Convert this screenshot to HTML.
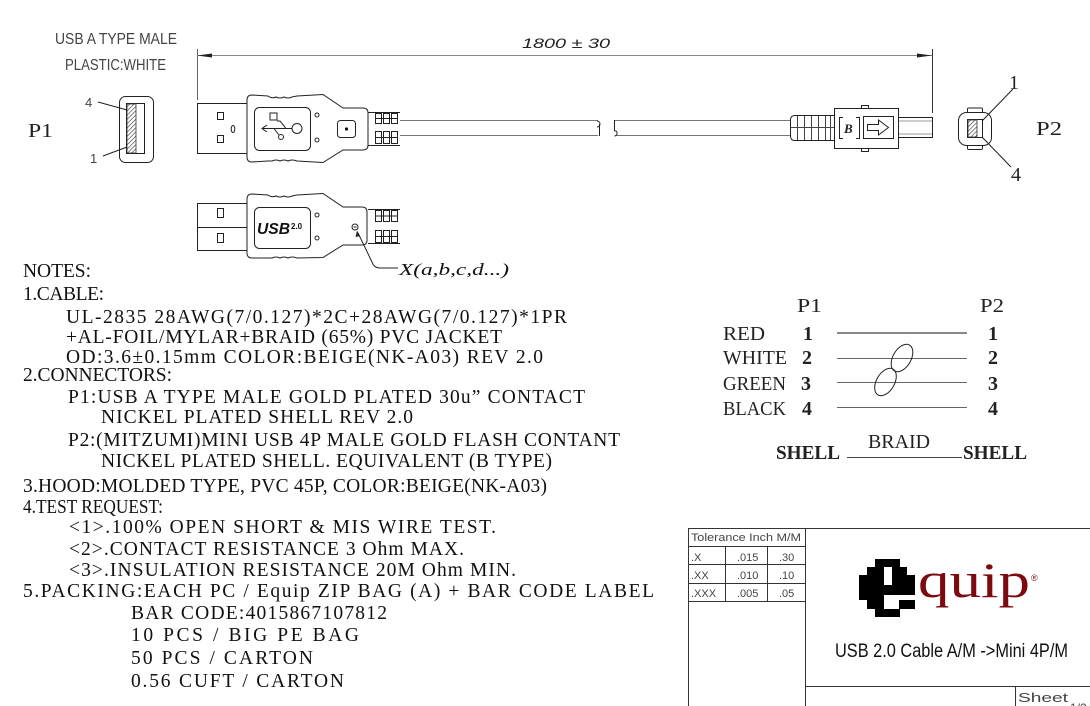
<!DOCTYPE html>
<html><head><meta charset="utf-8"><style>
html,body{margin:0;padding:0;background:#fff;}
svg{display:block;}
.n{font-family:"Liberation Serif",serif;font-size:19.5px;fill:#111;}
.s{font-family:"Liberation Sans",sans-serif;fill:#444;}
.w{font-family:"Liberation Serif",serif;font-size:20px;fill:#222;}
.d{fill:none;stroke:#222;stroke-width:1;}
</style></head><body>
<svg width="1090" height="706" viewBox="0 0 1090 706" xmlns="http://www.w3.org/2000/svg">
<defs>
<pattern id="h" width="3" height="3" patternUnits="userSpaceOnUse" patternTransform="rotate(45)"><line x1="0" y1="0" x2="0" y2="3" stroke="#333" stroke-width="1.2"/></pattern>
</defs>
<rect width="1090" height="706" fill="#fff"/>

<!-- top labels -->
<text class="s" x="55" y="44" font-size="16" textLength="122" lengthAdjust="spacingAndGlyphs">USB A TYPE MALE</text>
<text class="s" x="65" y="70" font-size="16" textLength="101" lengthAdjust="spacingAndGlyphs">PLASTIC:WHITE</text>
<text class="w" x="28" y="137" font-size="19" textLength="25" lengthAdjust="spacingAndGlyphs">P1</text>
<text class="w" x="1036" y="135" font-size="19" textLength="26" lengthAdjust="spacingAndGlyphs">P2</text>

<!-- P1 end view -->
<rect class="d" x="119.5" y="96.5" width="34" height="66" rx="6"/>
<rect class="d" x="126.5" y="103.5" width="18" height="50"/>
<rect x="127" y="104" width="9" height="49" fill="url(#h)" stroke="#333" stroke-width="0.8"/>
<text class="s" x="85" y="107" font-size="13">4</text>
<text class="s" x="90" y="163" font-size="13">1</text>
<line class="d" x1="98" y1="102" x2="127" y2="110"/>
<line class="d" x1="103" y1="156" x2="127" y2="147"/>

<!-- dimension -->
<line x1="197.5" y1="49" x2="197.5" y2="100" stroke="#666"/>
<line x1="932.5" y1="49" x2="932.5" y2="113" stroke="#333"/>
<line x1="197" y1="55.5" x2="932" y2="55.5" stroke="#888"/>
<polygon points="197,55.5 212,53.5 212,57.5" fill="#222"/>
<polygon points="932,55.5 917,53.5 917,57.5" fill="#222"/>
<text x="522" y="48" font-family="Liberation Sans,sans-serif" font-style="italic" font-size="14" textLength="88" lengthAdjust="spacingAndGlyphs" fill="#222">1800 ± 30</text>

<!-- USB A connector 1 -->
<path class="d" d="M247,103.5 H197.5 V153.5 H247"/>
<rect class="d" x="217.5" y="112.5" width="6" height="7"/>
<rect class="d" x="217.5" y="135.5" width="6" height="7"/>
<ellipse class="d" cx="233" cy="129" rx="1.8" ry="3.5"/>
<path class="d" d="M252,95 L268,96 Q272,99 276,97 Q280,99 284,97 Q288,99 292,97 L297,96 L323,94.5 L343,108 L363,108 Q368,108 368,113 L368,145 Q368,150 363,150 L343,150 L323,162.5 L297,161 Q292,159 288,161 Q284,159 280,161 Q276,159 272,161 L268,161 L252,162 Q247,162 247,157 L247,100 Q247,95 252,95 Z"/>
<rect class="d" x="254.5" y="107.5" width="56" height="43" rx="5"/>
<path class="d" d="M262,128.5 H292 M267,125 L262,128.5 L267,132 M286,128.5 L280,121 H277 M274,128.5 L279,135"/>
<rect class="d" x="270" y="113" width="7" height="7"/>
<circle class="d" cx="297" cy="128.5" r="5"/>
<circle class="d" cx="281" cy="137" r="2.5"/>
<circle class="d" cx="317" cy="115" r="2"/>
<circle class="d" cx="317" cy="140" r="2"/>
<rect class="d" x="337.5" y="120.5" width="18" height="17" rx="3"/>
<circle cx="346.5" cy="129" r="1.6" fill="#111"/>
<!-- strain relief 1 -->
<path class="d" d="M368,112.5 H400 M368,145.5 H400"/>
<g class="d">
<rect x="375.5" y="113.5" width="6" height="10"/><rect x="383.5" y="113.5" width="6" height="10"/><rect x="391.5" y="113.5" width="6" height="10"/>
<rect x="375.5" y="131.5" width="6" height="12"/><rect x="383.5" y="131.5" width="6" height="12"/><rect x="391.5" y="131.5" width="6" height="12"/>
<path d="M375.5,118.5 H397.5 M375.5,137.5 H397.5"/>
</g>
<!-- cable -->
<path d="M400,120.5 H598 M400,135.5 H598 M615,120.5 H790 M615,135.5 H790" stroke="#777" fill="none"/>
<path class="d" d="M597,121 C601,121 601,127 597,127 M599.5,124 V136"/>
<path class="d" d="M614.5,120 V131 M614.5,131 C618,130 618,136 614.5,136"/>

<!-- mini B plug -->
<path class="d" d="M834,115.5 H795 Q790.5,115.5 790.5,120 V136 Q790.5,140.5 795,140.5 H834"/>
<path d="M797.5,116 V140 M804.5,116 V140 M811.5,116 V140 M818.5,116 V140 M825.5,116 V140 M830.5,116 V140 M790.5,127.5 H834" stroke="#444" fill="none"/>
<rect class="d" x="834.5" y="108.5" width="64" height="40"/>
<rect class="d" x="861.5" y="105.5" width="7" height="3"/>
<rect class="d" x="861.5" y="148.5" width="7" height="3"/>
<path class="d" d="M843,117.5 H839.5 V138.5 H843 M856,117.5 H859.5 V138.5 H856"/>
<text x="844" y="133" font-family="Liberation Serif,serif" font-weight="bold" font-style="italic" font-size="13" fill="#222">B</text>
<rect class="d" x="863.5" y="116.5" width="30" height="22"/>
<path class="d" d="M867.5,124.5 H878.5 V120 L888.5,127.5 L878.5,135 V130.5 H867.5 Z"/>
<path class="d" d="M899,117.5 H932.5 V137.5 H899"/>
<path d="M899,121 H932 M899,134 H932" stroke="#999" fill="none"/>

<!-- P2 end view -->
<rect class="d" x="958.5" y="112.5" width="33" height="33" rx="8"/>
<path class="d" d="M967.5,112.5 V109 Q967.5,108 969,108 H981 Q982.5,108 982.5,109 V112.5 M967.5,145.5 V148.5 Q967.5,149.5 969,149.5 H981 Q982.5,149.5 982.5,148.5 V145.5"/>
<rect class="d" x="967.5" y="119.5" width="15" height="18"/>
<rect x="968" y="120" width="9" height="17" fill="url(#h)" stroke="#333" stroke-width="0.8"/>
<text class="w" x="1009" y="89" font-size="18">1</text>
<text class="w" x="1011" y="181" font-size="18">4</text>
<line class="d" x1="1013" y1="89" x2="982" y2="121"/>
<line class="d" x1="982" y1="137" x2="1011" y2="167"/>

<!-- USB A connector 2 -->
<path class="d" d="M247,203.5 H197.5 V250.5 H247 M197.5,227.5 H247"/>
<rect class="d" x="217.5" y="208.5" width="6" height="9"/>
<rect class="d" x="217.5" y="233.5" width="6" height="9"/>
<path class="d" d="M252,194 L268,195 Q272,198 276,196 Q280,198 284,196 Q288,198 292,196 L297,195 L323,193.5 L343,207 L362,207 Q367,207 367,212 L367,240 Q367,245 362,245 L343,245 L323,257.5 L297,258 Q292,256 288,258 Q284,256 280,258 Q276,256 272,258 L268,258 L252,258 Q247,258 247,253 L247,199 Q247,194 252,194 Z"/>
<rect class="d" x="254.5" y="207.5" width="56" height="41" rx="5"/>
<text x="257" y="234" font-family="Liberation Sans,sans-serif" font-weight="bold" font-style="italic" font-size="16" textLength="33" lengthAdjust="spacingAndGlyphs" fill="#111">USB</text>
<text x="291" y="229" font-family="Liberation Sans,sans-serif" font-weight="bold" font-size="8" fill="#111">2.0</text>
<circle class="d" cx="317" cy="215" r="2"/>
<circle class="d" cx="317" cy="238" r="2"/>
<circle class="d" cx="355" cy="227" r="3"/>
<path d="M353.5,227 H356.5" stroke="#222"/>
<path class="d" d="M368,209.5 H400 M368,243.5 H400"/>
<g class="d">
<rect x="375.5" y="210.5" width="6" height="11"/><rect x="383.5" y="210.5" width="6" height="11"/><rect x="391.5" y="210.5" width="6" height="11"/>
<rect x="375.5" y="230.5" width="6" height="12"/><rect x="383.5" y="230.5" width="6" height="12"/><rect x="391.5" y="230.5" width="6" height="12"/>
<path d="M375.5,216 H397.5 M375.5,236.5 H397.5"/>
</g>
<path class="d" d="M358,233 L372,262 Q374,268 380,268 L398,268"/>
<polygon points="357,230.5 355.5,237 360,236" fill="#222"/>
<text x="399" y="275" font-family="Liberation Serif,serif" font-style="italic" font-size="17" textLength="110" lengthAdjust="spacingAndGlyphs" fill="#111">X(a,b,c,d...)</text>

<!-- Notes -->
<text class="n" x="23" y="277" textLength="68" lengthAdjust="spacing">NOTES:</text>
<text class="n" x="23" y="300" textLength="81" lengthAdjust="spacing">1.CABLE:</text>
<text class="n" x="66" y="323" textLength="501" lengthAdjust="spacing">UL-2835 28AWG(7/0.127)*2C+28AWG(7/0.127)*1PR</text>
<text class="n" x="66" y="343" textLength="436" lengthAdjust="spacing">+AL-FOIL/MYLAR+BRAID (65%) PVC JACKET</text>
<text class="n" x="66" y="363" textLength="477" lengthAdjust="spacing">OD:3.6±0.15mm COLOR:BEIGE(NK-A03) REV 2.0</text>
<text class="n" x="23" y="381" textLength="149" lengthAdjust="spacing">2.CONNECTORS:</text>
<text class="n" x="68" y="403" textLength="517" lengthAdjust="spacing">P1:USB A TYPE MALE GOLD PLATED 30u” CONTACT</text>
<text class="n" x="101" y="423" textLength="312" lengthAdjust="spacing">NICKEL PLATED SHELL REV 2.0</text>
<text class="n" x="68" y="446" textLength="552" lengthAdjust="spacing">P2:(MITZUMI)MINI USB 4P MALE GOLD FLASH CONTANT</text>
<text class="n" x="101" y="467" textLength="451" lengthAdjust="spacing">NICKEL PLATED SHELL. EQUIVALENT (B TYPE)</text>
<text class="n" x="23" y="492" textLength="524" lengthAdjust="spacing">3.HOOD:MOLDED TYPE, PVC 45P, COLOR:BEIGE(NK-A03)</text>
<text class="n" x="23" y="513" textLength="140" lengthAdjust="spacingAndGlyphs">4.TEST REQUEST:</text>
<text class="n" x="69" y="533" textLength="427" lengthAdjust="spacing">&lt;1&gt;.100% OPEN SHORT &amp; MIS WIRE TEST.</text>
<text class="n" x="69" y="555" textLength="395" lengthAdjust="spacing">&lt;2&gt;.CONTACT RESISTANCE 3 Ohm MAX.</text>
<text class="n" x="69" y="576" textLength="447" lengthAdjust="spacing">&lt;3&gt;.INSULATION RESISTANCE 20M Ohm MIN.</text>
<text class="n" x="23" y="597" textLength="631" lengthAdjust="spacing">5.PACKING:EACH PC /  Equip ZIP BAG (A) + BAR CODE LABEL</text>
<text class="n" x="131" y="619" textLength="256" lengthAdjust="spacing">BAR CODE:4015867107812</text>
<text class="n" x="131" y="641" textLength="228" lengthAdjust="spacing">10 PCS / BIG PE BAG</text>
<text class="n" x="131" y="664" textLength="182" lengthAdjust="spacing">50 PCS / CARTON</text>
<text class="n" x="131" y="687" textLength="213" lengthAdjust="spacing">0.56 CUFT / CARTON</text>

<!-- Wiring diagram -->
<text class="w" x="797" y="312" textLength="25" lengthAdjust="spacingAndGlyphs">P1</text>
<text class="w" x="980" y="312" textLength="24" lengthAdjust="spacingAndGlyphs">P2</text>
<text class="w" x="723" y="340" textLength="42" lengthAdjust="spacingAndGlyphs">RED</text>
<text class="w" x="723" y="364" textLength="64" lengthAdjust="spacingAndGlyphs">WHITE</text>
<text class="w" x="723" y="390" textLength="63" lengthAdjust="spacingAndGlyphs">GREEN</text>
<text class="w" x="723" y="415" textLength="63" lengthAdjust="spacingAndGlyphs">BLACK</text>
<g class="w" font-weight="bold">
<text x="803" y="340">1</text><text x="802" y="364">2</text><text x="801" y="390">3</text><text x="802" y="415">4</text>
<text x="988" y="340">1</text><text x="988" y="364">2</text><text x="988" y="390">3</text><text x="988" y="415">4</text>
</g>
<line x1="837" y1="333" x2="967" y2="333" stroke="#111"/>
<line x1="837" y1="358.5" x2="967" y2="358.5" stroke="#666"/>
<line x1="837" y1="382.5" x2="967" y2="382.5" stroke="#666"/>
<line x1="837" y1="407.5" x2="967" y2="407.5" stroke="#666"/>
<ellipse class="d" cx="902" cy="358" rx="9" ry="15" transform="rotate(30 902 358)"/>
<ellipse class="d" cx="885.5" cy="382" rx="9" ry="15" transform="rotate(30 885.5 382)"/>
<text class="w" x="776" y="459" font-weight="bold" textLength="64" lengthAdjust="spacingAndGlyphs">SHELL</text>
<text class="w" x="868" y="448" textLength="62" lengthAdjust="spacingAndGlyphs" fill="#444">BRAID</text>
<line x1="847" y1="457.5" x2="962" y2="457.5" stroke="#444"/>
<text class="w" x="963" y="459" font-weight="bold" textLength="64" lengthAdjust="spacingAndGlyphs">SHELL</text>

<!-- Title block -->
<path d="M688,528.5 H1090 M688.5,528 V706 M805.5,528 V706 M805,686.5 H1090 M1015.5,686 V706" stroke="#333" fill="none"/>
<path d="M688,546.5 H805 M688,564.5 H805 M688,583.5 H805 M688,601.5 H805 M725.5,546 V601 M767.5,546 V601" stroke="#333" fill="none"/>
<g class="s" font-size="11" fill="#333">
<text x="691" y="541" textLength="110" lengthAdjust="spacingAndGlyphs">Tolerance Inch M/M</text>
<text x="691" y="561">.X</text><text x="737" y="561">.015</text><text x="779" y="561">.30</text>
<text x="691" y="579">.XX</text><text x="737" y="579">.010</text><text x="779" y="579">.10</text>
<text x="691" y="597">.XXX</text><text x="737" y="597">.005</text><text x="779" y="597">.05</text>
</g>
<!-- logo e (pixel) -->
<g fill="#000">
<rect x="875" y="559" width="25" height="8"/>
<rect x="867" y="567" width="17" height="8"/>
<rect x="892" y="567" width="15" height="8"/>
<rect x="859" y="575" width="25" height="10"/>
<rect x="892" y="575" width="23" height="10"/>
<rect x="859" y="585" width="56" height="10"/>
<rect x="859" y="595" width="25" height="5"/>
<rect x="867" y="600" width="17" height="9"/>
<rect x="899" y="600" width="16" height="9"/>
<rect x="875" y="609" width="25" height="8"/>
</g>
<text x="918" y="597" font-family="Liberation Serif,serif" font-size="50" textLength="112" lengthAdjust="spacingAndGlyphs" fill="#7d0a10">quip</text>
<text x="1031" y="581" font-family="Liberation Sans,sans-serif" font-size="9" fill="#7d0a10">®</text>
<text x="835" y="657" font-family="Liberation Sans,sans-serif" font-size="19" textLength="233" lengthAdjust="spacingAndGlyphs" fill="#111">USB 2.0 Cable A/M -&gt;Mini 4P/M</text>
<text class="s" x="1018" y="702" font-size="13" textLength="50" lengthAdjust="spacingAndGlyphs" fill="#333">Sheet</text>
<text class="s" x="1070" y="712" font-size="12" fill="#333">1/2</text>
</svg>
</body></html>
